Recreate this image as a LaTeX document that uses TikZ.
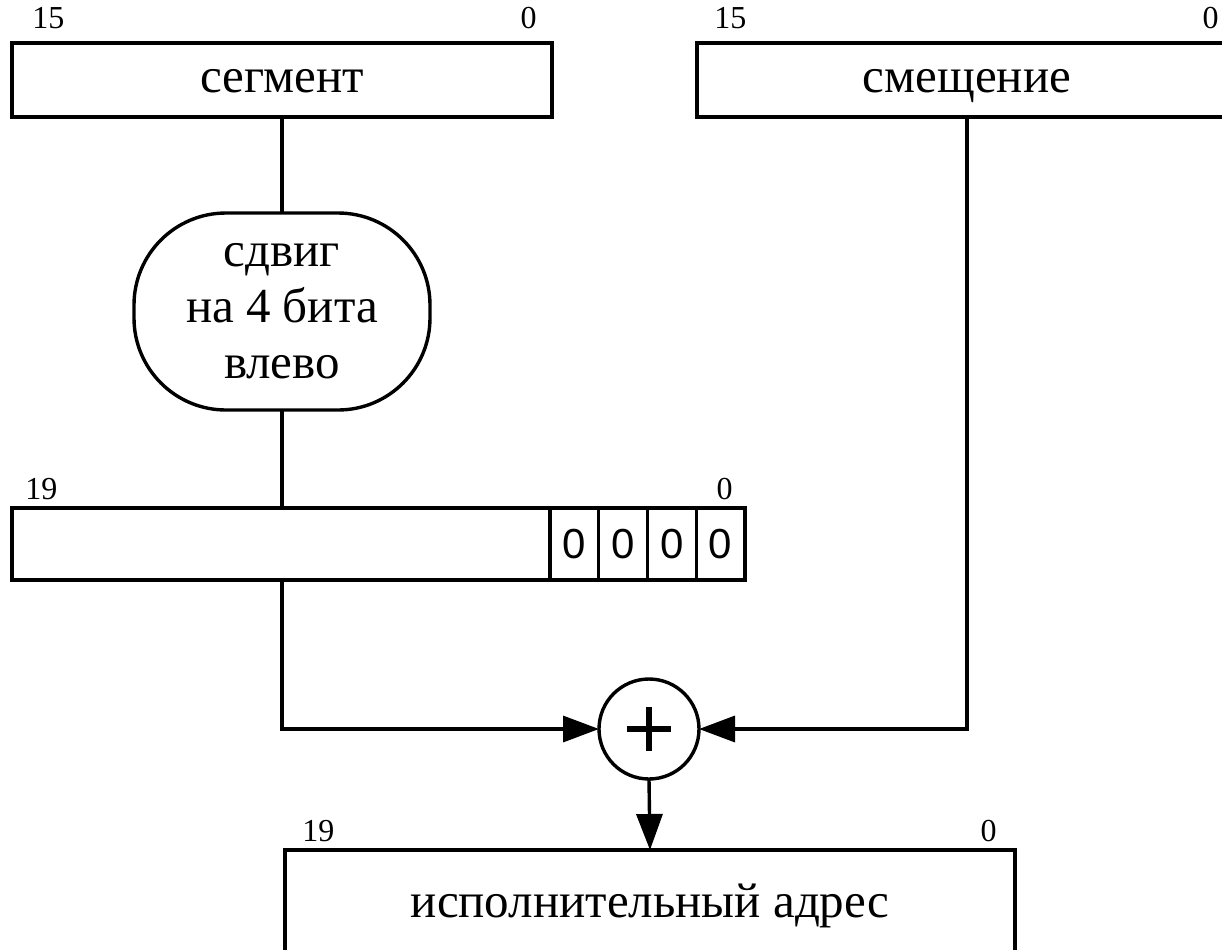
\documentclass[tikz,border=0pt]{standalone}
\usepackage{fontspec}
\setmainfont{Liberation Serif}
\newfontfamily\cellfont{Liberation Sans}
\usetikzlibrary{arrows.meta,positioning}

\tikzset{
  regbox/.style={draw, line width=1.7pt, outer sep=0pt, inner sep=0pt,
    text height=12pt, text depth=0pt,
    font=\fontsize{24.5}{30}\selectfont},
  bitlbl/.style={inner sep=0pt, font=\fontsize{16}{18}\selectfont},
  cellbox/.style={draw, line width=1.7pt, outer sep=0pt, inner sep=0pt,
    minimum width=24.375pt, minimum height=36pt,
    font=\cellfont\fontsize{21}{24}\selectfont},
  wire/.style={line width=1.7pt},
  feed/.style={wire, -{Triangle[length=18pt,width=13pt]}},
}

\begin{document}
\begin{tikzpicture}[x=0.5pt,y=-0.5pt]
  \clip (0,0) rectangle (1222,949);
  % source registers
  \node[regbox, minimum width=270pt, minimum height=37pt] (seg) at (282,80) {сегмент};
  \node[regbox, minimum width=270pt, minimum height=37pt] (off) at (967,80) {смещение};
  \node[bitlbl, anchor=south west] (segHi) at ([xshift=10pt,yshift=7pt]seg.north west) {15};
  \node[bitlbl, anchor=south east] (segLo) at ([xshift=-7.5pt,yshift=7pt]seg.north east) {0};
  \node[bitlbl, anchor=south west] (offHi) at ([xshift=8.5pt,yshift=7pt]off.north west) {15};
  \node[bitlbl, anchor=south east] (offLo) at ([xshift=-9pt,yshift=7pt]off.north east) {0};

  % shift block
  \node[draw, line width=1.7pt, outer sep=0pt, rounded corners=46pt,
    minimum width=148pt, minimum height=98.5pt, align=center,
    font=\fontsize{24.5}{28}\selectfont] (shift) at (282,311.5) {сдвиг\\на 4 бита\\влево};

  % shifted segment
  \node[regbox, minimum width=366.5pt, minimum height=36pt] (reg) at (378.5,544) {};
  \foreach \i in {0,...,3}
    \node[cellbox, anchor=east] (z\i) at (745-48.75*\i,544) {0};
  \node[bitlbl, anchor=south west] (regHi) at ([xshift=6.5pt,yshift=4pt]reg.north west) {19};
  \node[bitlbl, anchor=south east] (regLo) at ([xshift=-6pt,yshift=4pt]reg.north east) {0};

  % adder
  \node[draw, circle, line width=1.7pt, outer sep=0pt, inner sep=0pt, minimum size=50pt] (sum) at (649,729) {};
  \draw[line width=3pt] ([xshift=-11pt]sum.center) -- ([xshift=11pt]sum.center);
  \draw[line width=3pt] ([yshift=-11pt]sum.center) -- ([yshift=11pt]sum.center);

  % result
  \node[regbox, minimum width=365pt, minimum height=55pt] (res) at (650,905) {исполнительный адрес};
  \node[bitlbl, anchor=south west] (resHi) at ([xshift=8.5pt,yshift=4pt]res.north west) {19};
  \node[bitlbl, anchor=south east] (resLo) at ([xshift=-9pt,yshift=4pt]res.north east) {0};

  % connections
  \draw[wire] (seg.south) -- (shift.north);
  \draw[wire] (shift.south) -- (shift.south |- reg.north);
  \draw[feed] (shift.south |- reg.south) |- (sum.west);
  \draw[feed] (off.south) |- (sum.east);
  \draw[feed] (sum.south) -- (res.north);
\end{tikzpicture}
\end{document}
